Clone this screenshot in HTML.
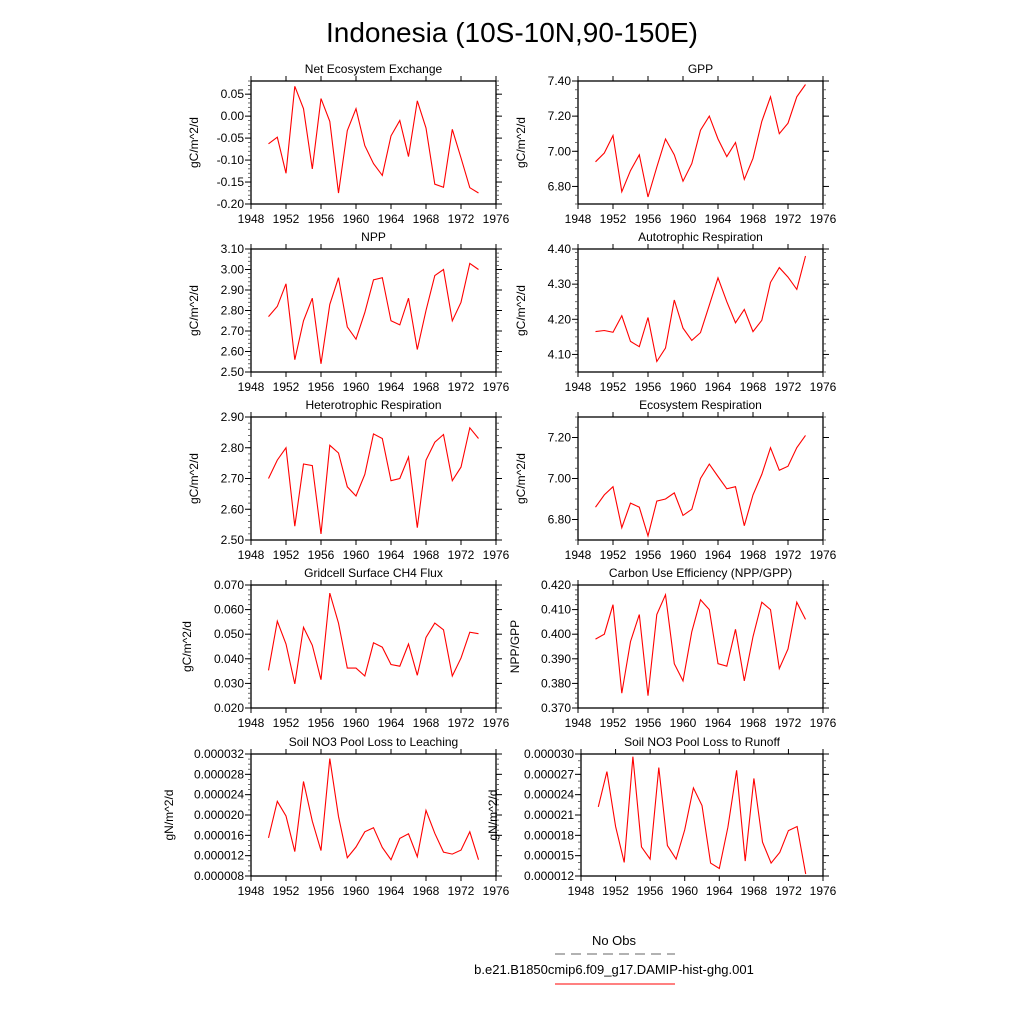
<!DOCTYPE html>
<html><head><meta charset="utf-8"><style>
body{margin:0;background:#fff;width:1024px;height:1024px;overflow:hidden}
svg text{font-family:"Liberation Sans",sans-serif;fill:#000}
</style></head><body>
<svg id="fig" width="1024" height="1024" viewBox="0 0 1024 1024" xmlns="http://www.w3.org/2000/svg">
<text x="512" y="42" font-size="28" text-anchor="middle">Indonesia (10S-10N,90-150E)</text>
<g>
<text x="614" y="945" font-size="13" text-anchor="middle">No Obs</text>
<line x1="555" y1="954" x2="675" y2="954" stroke="#666" stroke-width="1" stroke-dasharray="10,6"/>
<text x="614" y="974" font-size="13" text-anchor="middle">b.e21.B1850cmip6.f09_g17.DAMIP-hist-ghg.001</text>
<line x1="555" y1="984" x2="675" y2="984" stroke="#f00" stroke-width="1"/>
</g>
<g id="panels"></g>
</svg>
<script>
const years=[1950,1951,1952,1953,1954,1955,1956,1957,1958,1959,1960,1961,1962,1963,1964,1965,1966,1967,1968,1969,1970,1971,1972,1973,1974];
const xTicks=[1948,1952,1956,1960,1964,1968,1972,1976];
const neeVals=[-0.063,-0.048,-0.130,0.068,0.017,-0.120,0.040,-0.012,-0.175,-0.033,0.017,-0.067,-0.108,-0.135,-0.045,-0.010,-0.092,0.035,-0.027,-0.155,-0.162,-0.030,-0.095,-0.163,-0.175];
const gppVals=[6.94,6.99,7.09,6.77,6.89,6.98,6.74,6.91,7.07,6.98,6.83,6.93,7.12,7.20,7.07,6.97,7.05,6.84,6.96,7.17,7.31,7.10,7.16,7.31,7.38];
const nppVals=[2.77,2.82,2.93,2.56,2.75,2.86,2.54,2.83,2.96,2.72,2.66,2.79,2.95,2.96,2.75,2.73,2.86,2.61,2.80,2.97,3.00,2.75,2.84,3.03,3.00];
const arVals=[4.165,4.168,4.163,4.210,4.137,4.122,4.205,4.080,4.118,4.255,4.175,4.140,4.162,4.240,4.318,4.250,4.190,4.228,4.165,4.197,4.305,4.347,4.320,4.285,4.380];
const hrVals=[2.70,2.76,2.80,2.545,2.747,2.742,2.52,2.808,2.783,2.673,2.643,2.713,2.845,2.83,2.693,2.70,2.77,2.54,2.76,2.818,2.843,2.693,2.737,2.865,2.83];
const erVals=[6.86,6.92,6.96,6.76,6.88,6.86,6.72,6.89,6.90,6.93,6.82,6.85,7.00,7.07,7.01,6.95,6.96,6.77,6.92,7.02,7.15,7.04,7.06,7.15,7.21];
const ch4Vals=[0.0353,0.0553,0.046,0.0298,0.0528,0.0455,0.0315,0.0667,0.0545,0.0362,0.0362,0.0330,0.0465,0.0447,0.0377,0.0370,0.0460,0.0333,0.0487,0.0545,0.0518,0.0330,0.0403,0.0508,0.0502];
const cueVals=[0.398,0.400,0.412,0.376,0.397,0.408,0.375,0.408,0.416,0.388,0.381,0.401,0.414,0.410,0.388,0.387,0.402,0.381,0.399,0.413,0.410,0.386,0.394,0.413,0.406];
const leachVals=[15.5e-6,22.7e-6,19.8e-6,12.8e-6,26.6e-6,18.8e-6,13.0e-6,31.1e-6,19.7e-6,11.6e-6,13.7e-6,16.7e-6,17.5e-6,13.6e-6,11.2e-6,15.4e-6,16.3e-6,11.8e-6,20.9e-6,16.4e-6,12.7e-6,12.3e-6,13.1e-6,16.7e-6,11.2e-6];
const runoffVals=[22.2e-6,27.4e-6,19.3e-6,14.0e-6,29.6e-6,16.3e-6,14.5e-6,28.0e-6,16.5e-6,14.5e-6,18.8e-6,25.0e-6,22.4e-6,13.9e-6,13.1e-6,19.2e-6,27.6e-6,14.2e-6,26.4e-6,17.0e-6,13.9e-6,15.5e-6,18.7e-6,19.3e-6,12.3e-6];
const neeTicks=[-0.20,-0.15,-0.10,-0.05,0.00,0.05];
const gppTicks=[6.80,7.00,7.20,7.40];
const nppTicks=[2.50,2.60,2.70,2.80,2.90,3.00,3.10];
const arTicks=[4.10,4.20,4.30,4.40];
const hrTicks=[2.50,2.60,2.70,2.80,2.90];
const erTicks=[6.80,7.00,7.20];
const ch4Ticks=[0.020,0.030,0.040,0.050,0.060,0.070];
const cueTicks=[0.370,0.380,0.390,0.400,0.410,0.420];
const leachTicks=[8e-6,12e-6,16e-6,20e-6,24e-6,28e-6,32e-6];
const runoffTicks=[12e-6,15e-6,18e-6,21e-6,24e-6,27e-6,30e-6];

const NS='http://www.w3.org/2000/svg';
const root=document.getElementById('panels');
function mk(tag,attrs,parent){const e=document.createElementNS(NS,tag);for(const k in attrs)e.setAttribute(k,attrs[k]);parent.appendChild(e);return e;}
function panel(cfg){
  const {name,title,ylab,vals,ticks,ymin,ymax,minor,dec,x0,x1,y0,y1,ylx}=cfg;
  const g=mk('g',{},root);
  
  
  const xs=v=>x0+(v-1948)/(1976-1948)*(x1-x0);
  const ys=v=>y1-(v-ymin)/(ymax-ymin)*(y1-y0);
  const box=mk('rect',{x:x0,y:y0,width:x1-x0,height:y1-y0,fill:'none',stroke:'#000','stroke-width':1.3},g);
  
  
  const t=mk('text',{x:(x0+x1)/2,y:y0-8,'font-size':12,'text-anchor':'middle'},g);
  t.textContent=title;
  
  
  const yl=mk('text',{x:ylx,y:(y0+y1)/2,'font-size':12,'text-anchor':'middle',transform:`rotate(-90 ${ylx} ${(y0+y1)/2})`},g);
  yl.textContent=ylab;
  
  
  xTicks.forEach(v=>{
    const x=xs(v);
    mk('line',{x1:x,y1:y1,x2:x,y2:y1+5,stroke:'#000'},g);
    mk('line',{x1:x,y1:y0,x2:x,y2:y0-5,stroke:'#000'},g);
    const tl=mk('text',{x:x,y:y1+19,'font-size':12,'text-anchor':'middle'},g);
    tl.textContent=v;
    
    
  });
  for(let v=ymin;v<=ymax+1e-12;v+=minor){
    const y=ys(v);
    mk('line',{x1:x0,y1:y,x2:x0-3,y2:y,stroke:'#444','stroke-width':0.8},g);
    mk('line',{x1:x1,y1:y,x2:x1+3,y2:y,stroke:'#444','stroke-width':0.8},g);
  }
  ticks.forEach(v=>{
    const y=ys(v);
    mk('line',{x1:x0,y1:y,x2:x0-6,y2:y,stroke:'#000'},g);
    mk('line',{x1:x1,y1:y,x2:x1+6,y2:y,stroke:'#000'},g);
    const tl=mk('text',{x:x0-7,y:y+4,'font-size':12,'text-anchor':'end'},g);
    tl.textContent=v.toFixed(dec);
    
    
  });
  const pts=years.map((yr,i)=>xs(yr).toFixed(1)+','+ys(vals[i]).toFixed(1)).join(' ');
  const pl=mk('polyline',{points:pts,fill:'none',stroke:'#f00','stroke-width':1.1},g);
  
  
}
const L=[251,496], R=[578,823];
const rows=[[81,204],[249,372],[417,540],[585,708],[754,876]];
panel({name:'nee',title:'Net Ecosystem Exchange',ylab:'gC/m^2/d',vals:neeVals,ticks:neeTicks,ymin:-0.20,ymax:0.08,minor:0.01,dec:2,x0:L[0],x1:L[1],y0:rows[0][0],y1:rows[0][1],ylx:198});
panel({name:'gpp',title:'GPP',ylab:'gC/m^2/d',vals:gppVals,ticks:gppTicks,ymin:6.70,ymax:7.40,minor:0.05,dec:2,x0:R[0],x1:R[1],y0:rows[0][0],y1:rows[0][1],ylx:525});
panel({name:'npp',title:'NPP',ylab:'gC/m^2/d',vals:nppVals,ticks:nppTicks,ymin:2.50,ymax:3.10,minor:0.02,dec:2,x0:L[0],x1:L[1],y0:rows[1][0],y1:rows[1][1],ylx:198});
panel({name:'ar',title:'Autotrophic Respiration',ylab:'gC/m^2/d',vals:arVals,ticks:arTicks,ymin:4.05,ymax:4.40,minor:0.02,dec:2,x0:R[0],x1:R[1],y0:rows[1][0],y1:rows[1][1],ylx:525});
panel({name:'hr',title:'Heterotrophic Respiration',ylab:'gC/m^2/d',vals:hrVals,ticks:hrTicks,ymin:2.50,ymax:2.90,minor:0.02,dec:2,x0:L[0],x1:L[1],y0:rows[2][0],y1:rows[2][1],ylx:198});
panel({name:'er',title:'Ecosystem Respiration',ylab:'gC/m^2/d',vals:erVals,ticks:erTicks,ymin:6.70,ymax:7.30,minor:0.05,dec:2,x0:R[0],x1:R[1],y0:rows[2][0],y1:rows[2][1],ylx:525});
panel({name:'ch4',title:'Gridcell Surface CH4 Flux',ylab:'gC/m^2/d',vals:ch4Vals,ticks:ch4Ticks,ymin:0.020,ymax:0.070,minor:0.002,dec:3,x0:L[0],x1:L[1],y0:rows[3][0],y1:rows[3][1],ylx:191});
panel({name:'cue',title:'Carbon Use Efficiency (NPP/GPP)',ylab:'NPP/GPP',vals:cueVals,ticks:cueTicks,ymin:0.370,ymax:0.420,minor:0.002,dec:3,x0:R[0],x1:R[1],y0:rows[3][0],y1:rows[3][1],ylx:519});
panel({name:'leaching',title:'Soil NO3 Pool Loss to Leaching',ylab:'gN/m^2/d',vals:leachVals,ticks:leachTicks,ymin:8e-6,ymax:32e-6,minor:1e-6,dec:6,x0:L[0],x1:L[1],y0:rows[4][0],y1:rows[4][1],ylx:173});
panel({name:'runoff',title:'Soil NO3 Pool Loss to Runoff',ylab:'gN/m^2/d',vals:runoffVals,ticks:runoffTicks,ymin:12e-6,ymax:30e-6,minor:1e-6,dec:6,x0:581,x1:823,y0:rows[4][0],y1:rows[4][1],ylx:497});
</script>
</body></html>
